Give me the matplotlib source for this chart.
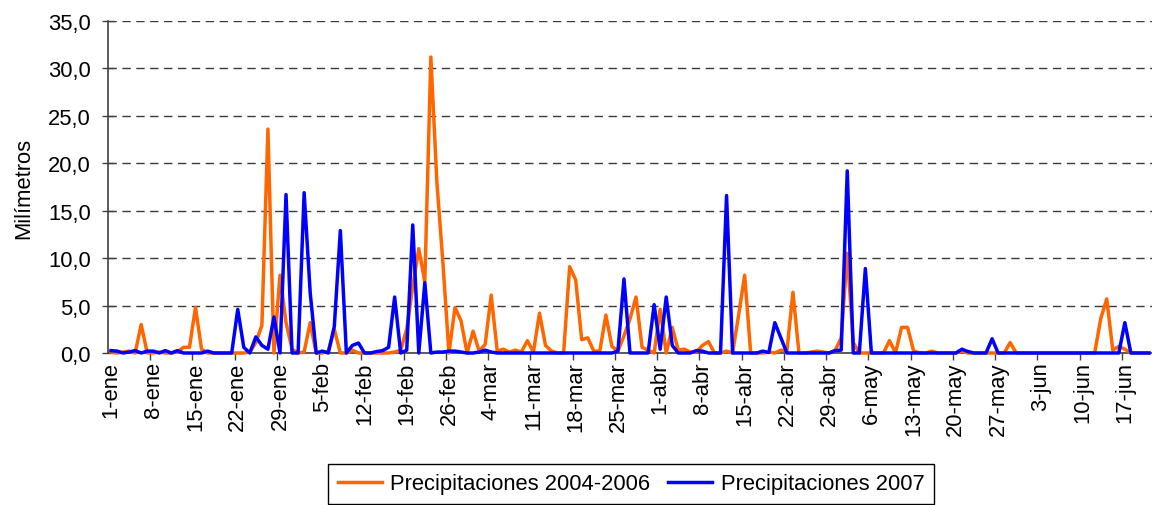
import matplotlib
matplotlib.use("Agg")
import matplotlib.pyplot as plt
from matplotlib.ticker import FuncFormatter

plt.rcParams['font.family'] = ['Liberation Sans', 'DejaVu Sans']

tick_labels = ["1-ene", "8-ene", "15-ene", "22-ene", "29-ene", "5-feb", "12-feb",
               "19-feb", "26-feb", "4-mar", "11-mar", "18-mar", "25-mar", "1-abr",
               "8-abr", "15-abr", "22-abr", "29-abr", "6-may", "13-may", "20-may",
               "27-may", "3-jun", "10-jun", "17-jun"]

precip_2004_2006 = [
    0.1, 0.0, 0.1, 0.2, 0.0, 3.0, 0.0, 0.0, 0.1, 0.0,
    0.0, 0.1, 0.6, 0.6, 4.8, 0.4, 0.0, 0.0, 0.0, 0.0,
    0.0, 0.0, 0.0, 0.1, 1.1, 2.9, 23.6, 0.0, 8.2, 3.2,
    0.4, 0.0, 0.1, 3.2, 0.0, 0.0, 0.2, 2.5, 0.0, 0.0,
    0.3, 0.0, 0.0, 0.0, 0.0, 0.0, 0.0, 0.1, 0.3, 2.5,
    7.0, 11.0, 7.5, 31.2, 18.0, 9.5, 0.0, 4.8, 3.4, 0.0,
    2.3, 0.2, 0.9, 6.1, 0.2, 0.4, 0.1, 0.3, 0.1, 1.3,
    0.1, 4.2, 0.8, 0.2, 0.0, 0.0, 9.1, 7.7, 1.4, 1.6,
    0.2, 0.2, 4.0, 0.7, 0.2, 1.8, 3.6, 5.9, 0.6, 0.3,
    0.0, 4.6, 0.0, 2.7, 0.3, 0.4, 0.1, 0.1, 0.8, 1.2,
    0.0, 0.0, 0.2, 0.0, 4.0, 8.2, 0.0, 0.0, 0.0, 0.1,
    0.0, 0.3, 0.2, 6.4, 0.0, 0.0, 0.1, 0.2, 0.1, 0.0,
    0.3, 1.6, 10.5, 1.1, 0.0, 0.0, 0.0, 0.0, 0.0, 1.3,
    0.0, 2.7, 2.7, 0.2, 0.0, 0.0, 0.2, 0.0, 0.0, 0.0,
    0.0, 0.2, 0.0, 0.0, 0.0, 0.0, 0.0, 0.0, 0.0, 1.1,
    0.0, 0.0, 0.0, 0.0, 0.0, 0.0, 0.0, 0.0, 0.0, 0.0,
    0.0, 0.0, 0.0, 0.0, 3.6, 5.7, 0.3, 0.7, 0.4, 0.0,
    0.0, 0.0, 0.0,
]

precip_2007 = [
    0.25, 0.2, 0.0, 0.1, 0.25, 0.0, 0.2, 0.2, 0.0, 0.25,
    0.0, 0.25, 0.0, 0.0, 0.0, 0.0, 0.2, 0.0, 0.0, 0.0,
    0.0, 4.6, 0.6, 0.0, 1.7, 0.8, 0.4, 3.8, 0.0, 16.7,
    0.0, 0.0, 16.9, 6.4, 0.0, 0.2, 0.0, 2.8, 12.9, 0.0,
    0.8, 1.05, 0.0, 0.0, 0.15, 0.25, 0.6, 5.9, 0.0, 0.3,
    13.5, 0.0, 7.4, 0.0, 0.1, 0.1, 0.2, 0.2, 0.1, 0.0,
    0.0, 0.1, 0.3, 0.1, 0.0, 0.0, 0.0, 0.0, 0.0, 0.0,
    0.0, 0.0, 0.0, 0.0, 0.0, 0.0, 0.0, 0.0, 0.0, 0.0,
    0.0, 0.0, 0.0, 0.0, 0.2, 7.8, 0.0, 0.0, 0.0, 0.0,
    5.1, 0.4, 5.9, 0.8, 0.0, 0.0, 0.0, 0.25, 0.2, 0.0,
    0.0, 0.0, 16.6, 0.0, 0.0, 0.0, 0.0, 0.0, 0.2, 0.05,
    3.2, 1.6, 0.0, 0.0, 0.0, 0.0, 0.0, 0.0, 0.0, 0.0,
    0.25, 0.3, 19.2, 0.0, 0.0, 8.9, 0.0, 0.0, 0.0, 0.0,
    0.0, 0.0, 0.0, 0.0, 0.0, 0.0, 0.0, 0.0, 0.0, 0.0,
    0.0, 0.4, 0.15, 0.0, 0.0, 0.0, 1.5, 0.0, 0.0, 0.0,
    0.0, 0.0, 0.0, 0.0, 0.0, 0.0, 0.0, 0.0, 0.0, 0.0,
    0.0, 0.0, 0.0, 0.0, 0.0, 0.0, 0.0, 0.0, 3.2, 0.0,
    0.0, 0.0, 0.0,
]

n_days = len(precip_2004_2006)
days = list(range(n_days))

FS = 15.8

fig = plt.figure(figsize=(11.52, 5.06), dpi=100)
ax = fig.add_axes([108 / 1152, 1 - 354 / 506, 1 - 108 / 1152, (354 - 22) / 506])

ax.plot(days, precip_2004_2006, color='#FF6600', lw=2.5, solid_joinstyle='round',
        label='Precipitaciones 2004-2006', clip_on=False, zorder=3)
ax.plot(days, precip_2007, color='#0000FF', lw=2.5, solid_joinstyle='round',
        label='Precipitaciones 2007', clip_on=False, zorder=4)

ax.set_xlim(-0.5, n_days - 0.5)
ax.set_ylim(0, 35)
ax.set_yticks([0, 5, 10, 15, 20, 25, 30, 35])
ax.yaxis.set_major_formatter(FuncFormatter(lambda v, p: f"{v:.1f}".replace('.', ',')))
ax.yaxis.grid(True, color='#3a3a3a', linestyle=(0, (6, 4)), linewidth=1.0)
ax.set_axisbelow(True)

label_pos = [7 * k for k in range(len(tick_labels))]
ax.set_xticks(label_pos)
ax.set_xticklabels(tick_labels, rotation=90, fontsize=FS)
ax.tick_params(axis='x', which='major', length=0, pad=6)
ax.set_xticks([7 * k - 0.5 for k in range(1, 25)], minor=True)
ax.tick_params(axis='x', which='minor', length=5, width=1.0, color='#404040', direction='out')
ax.tick_params(axis='y', which='major', length=9, width=1.0, color='#404040',
               direction='inout', labelsize=FS, pad=8)

for s in ('top', 'right'):
    ax.spines[s].set_visible(False)
for s in ('left', 'bottom'):
    ax.spines[s].set_color('#404040')
    ax.spines[s].set_linewidth(1.2)

ax.set_ylabel('Milímetros', fontsize=FS, labelpad=10)

leg = fig.legend(loc='center', bbox_to_anchor=(631 / 1152, 1 - 485 / 506), ncol=2,
                 fontsize=FS, frameon=True, fancybox=False, framealpha=1,
                 edgecolor='black', handlelength=2.0, columnspacing=0.8,
                 handletextpad=0.4, borderpad=0.45)
leg.get_frame().set_linewidth(1.0)

fig.savefig('out.png', dpi=100)
